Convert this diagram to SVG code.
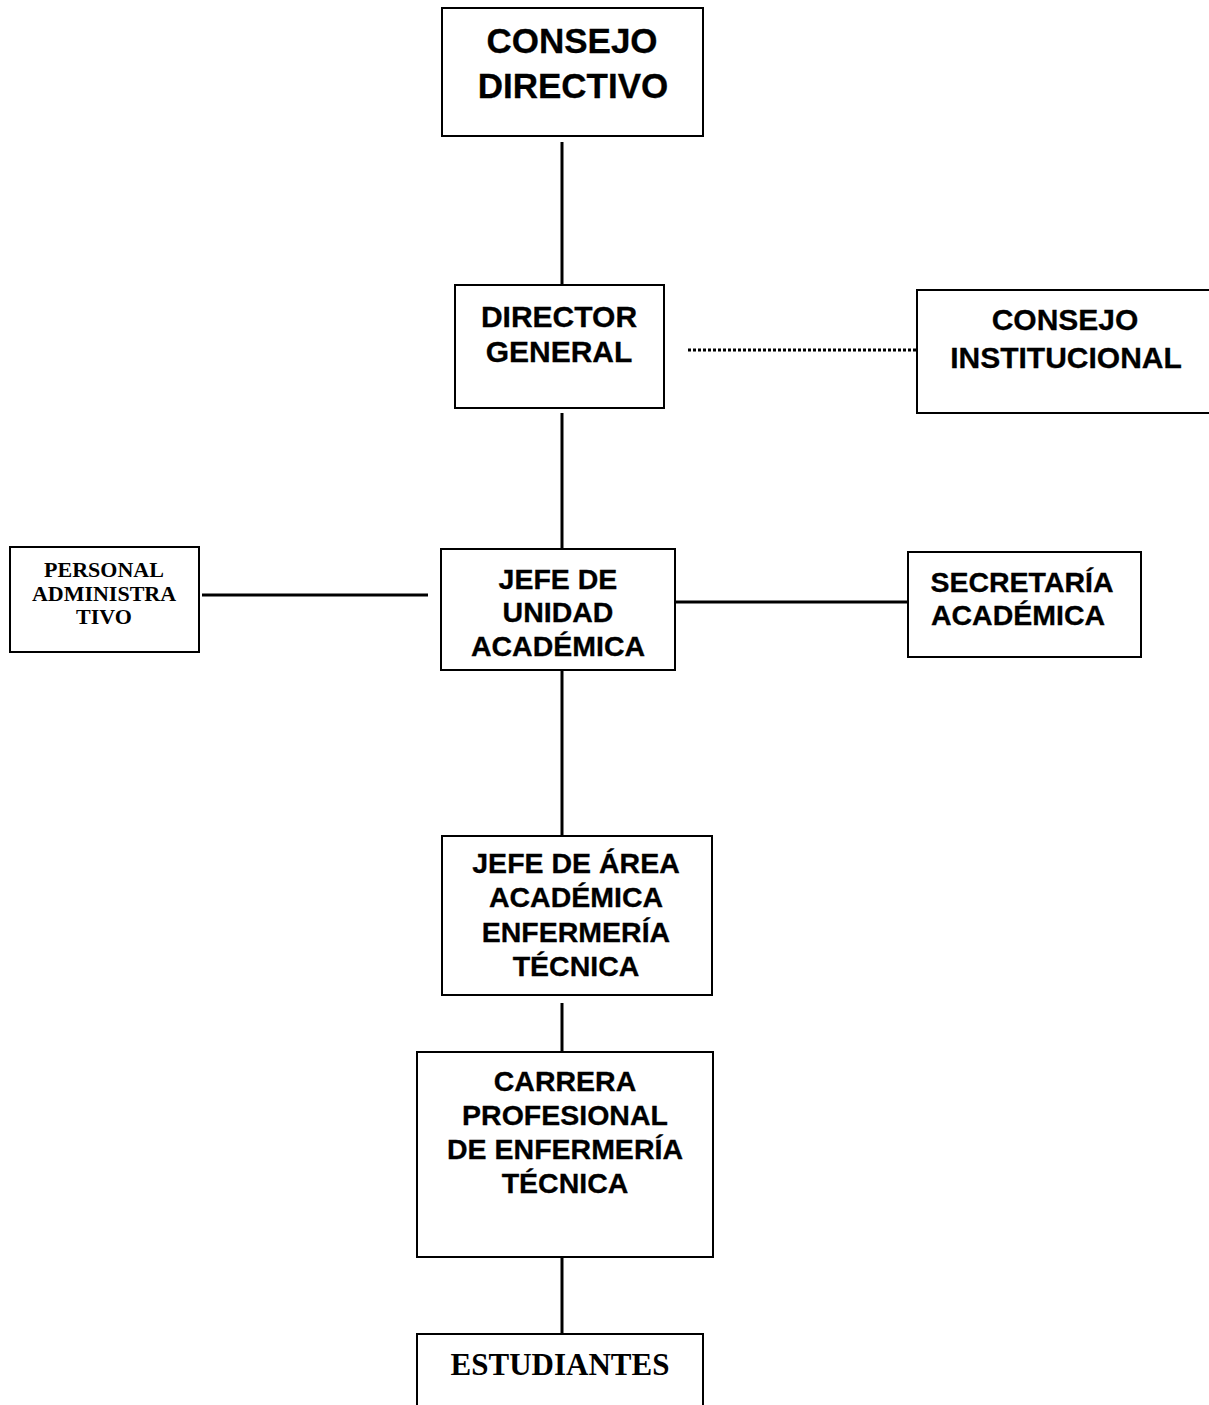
<svg xmlns="http://www.w3.org/2000/svg" width="1209" height="1405" viewBox="0 0 1209 1405">
<style>
.box{fill:#fff;stroke:#000;stroke-width:2}
.ln{stroke:#000;stroke-width:3;fill:none}
.dot{stroke:#000;stroke-width:3;fill:none;stroke-dasharray:3 2}
.t{font-family:"Liberation Sans",Arial,sans-serif;font-weight:bold;text-anchor:middle;fill:#000;stroke:#000;stroke-width:0.3}
.s{font-family:"Liberation Serif","Times New Roman",serif;font-weight:bold;text-anchor:middle;fill:#000}
</style>
<rect width="1209" height="1405" fill="#fff"/>
<g id="connectors">
<line class="ln" x1="562" y1="142" x2="562" y2="285"/>
<line class="ln" x1="562" y1="413" x2="562" y2="549"/>
<line class="dot" x1="688" y1="350" x2="917" y2="350"/>
<line class="ln" x1="202" y1="595" x2="428" y2="595"/>
<line class="ln" x1="675" y1="602" x2="907" y2="602"/>
<line class="ln" x1="562" y1="670" x2="562" y2="835"/>
<line class="ln" x1="562" y1="1003" x2="562" y2="1052"/>
<line class="ln" x1="562" y1="1257" x2="562" y2="1334"/>
</g>
<g id="consejo-directivo">
<rect class="box" x="442" y="8" width="261" height="128"/>
<text class="t" x="572" y="53" font-size="35">CONSEJO</text>
<text class="t" x="573" y="98" font-size="35">DIRECTIVO</text>
</g>
<g id="director-general">
<rect class="box" x="455" y="285" width="209" height="123"/>
<text class="t" x="559" y="327" font-size="30">DIRECTOR</text>
<text class="t" x="559" y="362" font-size="30">GENERAL</text>
</g>
<g id="consejo-institucional">
<rect class="box" x="917" y="290" width="300" height="123"/>
<text class="t" x="1065" y="330" font-size="30">CONSEJO</text>
<text class="t" x="1066" y="368" font-size="30">INSTITUCIONAL</text>
</g>
<g id="personal-administrativo">
<rect class="box" x="10" y="547" width="189" height="105"/>
<text class="s" x="104" y="577" font-size="22">PERSONAL</text>
<text class="s" x="104" y="601" font-size="22">ADMINISTRA</text>
<text class="s" x="104" y="624" font-size="22">TIVO</text>
</g>
<g id="jefe-unidad">
<rect class="box" x="441" y="549" width="234" height="121"/>
<text class="t" x="558" y="589" font-size="28.5">JEFE DE</text>
<text class="t" x="558" y="622" font-size="28.5">UNIDAD</text>
<text class="t" x="558" y="656" font-size="28.5">ACADÉMICA</text>
</g>
<g id="secretaria-academica">
<rect class="box" x="908" y="552" width="233" height="105"/>
<text class="t" x="1022" y="592" font-size="28.5">SECRETARÍA</text>
<text class="t" x="1018" y="625" font-size="28.5">ACADÉMICA</text>
</g>
<g id="jefe-area">
<rect class="box" x="442" y="836" width="270" height="159"/>
<text class="t" x="576" y="873" font-size="28.5">JEFE DE ÁREA</text>
<text class="t" x="576" y="907" font-size="28.5">ACADÉMICA</text>
<text class="t" x="576" y="942" font-size="28.5">ENFERMERÍA</text>
<text class="t" x="576" y="976" font-size="28.5">TÉCNICA</text>
</g>
<g id="carrera">
<rect class="box" x="417" y="1052" width="296" height="205"/>
<text class="t" x="565" y="1091" font-size="28.5">CARRERA</text>
<text class="t" x="565" y="1125" font-size="28.5">PROFESIONAL</text>
<text class="t" x="565" y="1159" font-size="28.5">DE ENFERMERÍA</text>
<text class="t" x="565" y="1193" font-size="28.5">TÉCNICA</text>
</g>
<g id="estudiantes">
<rect class="box" x="417" y="1334" width="286" height="80"/>
<text class="s" x="560" y="1375" font-size="31">ESTUDIANTES</text>
</g>
</svg>
